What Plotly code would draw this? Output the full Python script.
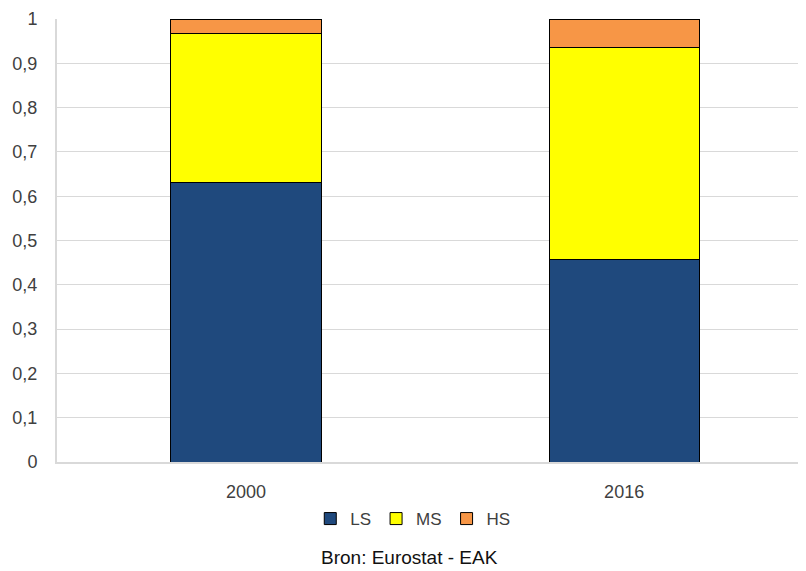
import plotly.graph_objects as go

years = ["2000", "2016"]
ls = [0.630, 0.458]
ms = [0.337, 0.477]
hs = [0.033, 0.065]
y_ticks = [0, 0.1, 0.2, 0.3, 0.4, 0.5, 0.6, 0.7, 0.8, 0.9, 1]
y_labels = ["0", "0,1", "0,2", "0,3", "0,4", "0,5", "0,6", "0,7", "0,8", "0,9", "1"]

FONT = "Liberation Sans, Arial, sans-serif"
fig = go.Figure()
for name, vals, col in [("LS", ls, "#1F497D"), ("MS", ms, "#FFFF00"), ("HS", hs, "#F79646")]:
    fig.add_trace(go.Bar(x=[0, 1], y=vals, name=name,
                         marker=dict(color=col, line=dict(color="#000000", width=1)),
                         width=0.397))

# page has an 8px body margin; figure sized/offset to compensate
fig.update_layout(
    barmode="stack",
    width=798, height=563,
    margin=dict(l=49, r=0, t=11, b=109),
    plot_bgcolor="white", paper_bgcolor="white",
    font=dict(family=FONT, size=18, color="#404040"),
    showlegend=True,
    legend=dict(orientation="h", x=0.475, xanchor="center", y=-0.1287, yanchor="middle",
                font=dict(size=17), traceorder="normal", itemwidth=30),
    xaxis=dict(tickmode="array", tickvals=[0, 1], ticktext=years, range=[-0.5, 1.481],
               showline=True, linecolor="#D9D9D9", linewidth=2, ticks="", showgrid=False,
               ticklabelstandoff=12),
    yaxis=dict(tickmode="array", tickvals=y_ticks, ticktext=y_labels, range=[0, 1],
               showline=True, linecolor="#D9D9D9", linewidth=2, gridcolor="#D9D9D9", gridwidth=1,
               ticks="", ticklabelstandoff=14, zeroline=False),
    annotations=[dict(text="Bron: Eurostat - EAK", x=0.471, y=-0.2167, xref="paper", yref="paper",
                      showarrow=False, font=dict(size=19, color="#111111"), yanchor="middle")],
)
fig.write_html("out.html")
